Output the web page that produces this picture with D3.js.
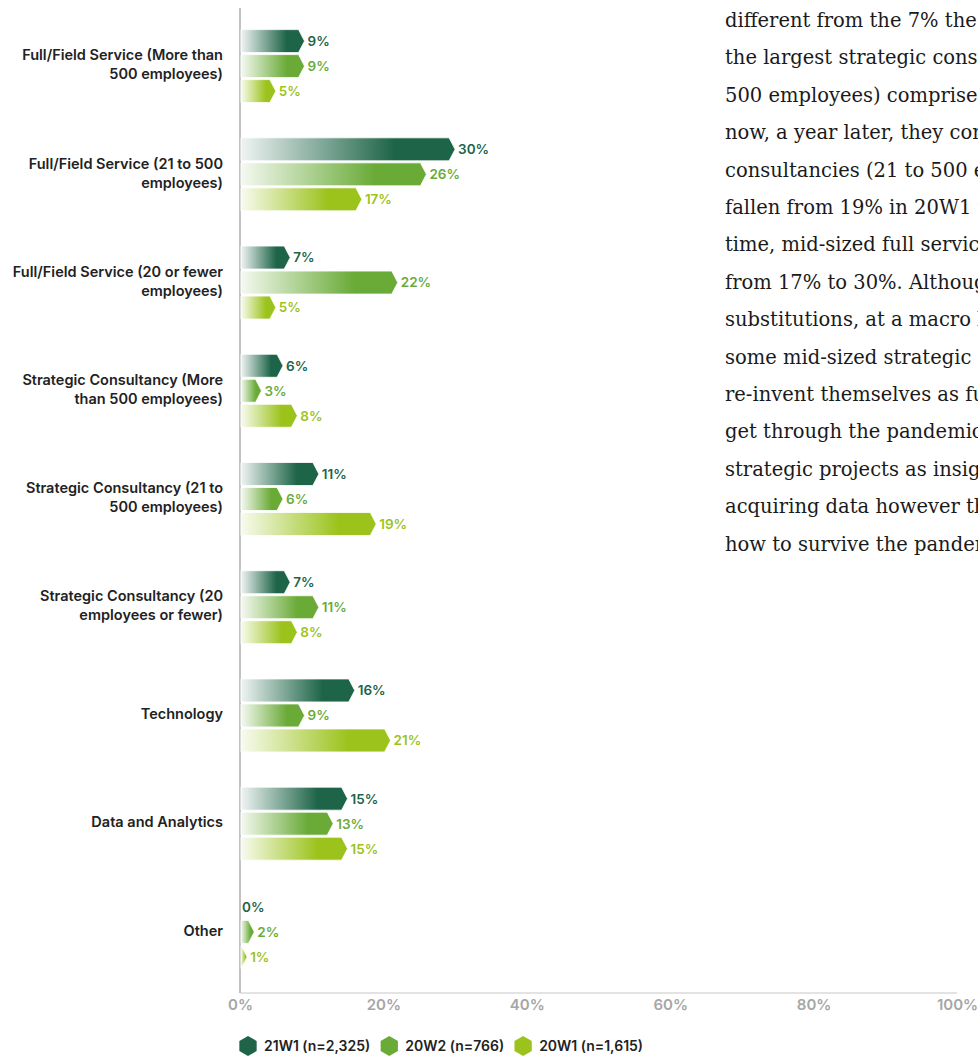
<!DOCTYPE html>
<html>
<head>
<meta charset="utf-8">
<script src="https://cdn.jsdelivr.net/npm/d3@7"></script>
<style>
  html, body { margin: 0; padding: 0; background: #fff; overflow: hidden; }
  svg { display: block; }
</style>
</head>
<body>
<svg id="chart" width="978" height="1056"></svg>
<script>
// ---- data ----
const categories = [
  "Full/Field Service (More than 500 employees)",
  "Full/Field Service (21 to 500 employees)",
  "Full/Field Service (20 or fewer employees)",
  "Strategic Consultancy (More than 500 employees)",
  "Strategic Consultancy (21 to 500 employees)",
  "Strategic Consultancy (20 employees or fewer)",
  "Technology",
  "Data and Analytics",
  "Other"
];
const seriesKeys = ["21W1", "20W2", "20W1"];
const seriesLabels = ["21W1 (n=2,325)", "20W2 (n=766)", "20W1 (n=1,615)"];
const values21W1 = [9, 30, 7, 6, 11, 7, 16, 15, 0];
const values20W2 = [9, 26, 22, 3, 6, 11, 9, 13, 2];
const values20W1 = [5, 17, 5, 8, 19, 8, 21, 15, 1];
const xTicks = [0, 20, 40, 60, 80, 100];
const seriesColors = ["#1d6448", "#6aab38", "#9bc31c"];

const bodyLines = [
  "different from the 7% the",
  "the largest strategic consultancies",
  "500 employees) comprised",
  "now, a year later, they comprise",
  "consultancies (21 to 500 employees)",
  "fallen from 19% in 20W1 to",
  "time, mid-sized full service",
  "from 17% to 30%. Although",
  "substitutions, at a macro level",
  "some mid-sized strategic consultancies",
  "re-invent themselves as full",
  "get through the pandemic",
  "strategic projects as insights",
  "acquiring data however the",
  "how to survive the pandemic"
];

const seriesValues = [values21W1, values20W2, values20W1];
const rows = categories.map((c, i) => ({
  category: c,
  bars: seriesKeys.map((k, s) => ({ key: k, value: seriesValues[s][i], s }))
}));

// ---- layout ----
const svg = d3.select("#chart");
const sansFont = "Inter, 'Open Sans', sans-serif";
const axisY = 993;

const x = d3.scaleLinear().domain([0, 100]).range([240, 957]);
const y = d3.scaleBand().domain(categories).range([12, 986]);
const ySub = d3.scaleBand().domain(seriesKeys).range([-37.5, 37.5])
  .paddingInner(0.08).paddingOuter(0.04);

// gradients: pale on the left, full colour towards the tip
const defs = svg.append("defs");
seriesKeys.forEach((k, s) => {
  const g = defs.append("linearGradient")
    .attr("id", "grad-" + k)
    .attr("x1", 0).attr("x2", 1).attr("y1", 0).attr("y2", 0);
  g.append("stop").attr("offset", 0).attr("stop-color", seriesColors[s]).attr("stop-opacity", 0.07);
  g.append("stop").attr("offset", 0.72).attr("stop-color", seriesColors[s]).attr("stop-opacity", 1);
  g.append("stop").attr("offset", 1).attr("stop-color", seriesColors[s]).attr("stop-opacity", 1);
});

// axes lines
svg.append("line")
  .attr("x1", x(0)).attr("x2", x(0)).attr("y1", 8).attr("y2", axisY)
  .attr("stroke", "#9a9a9a").attr("stroke-width", 1.2);
svg.append("line")
  .attr("x1", x(0)).attr("x2", x(100)).attr("y1", axisY).attr("y2", axisY)
  .attr("stroke", "#c8c8c8").attr("stroke-width", 1.2);

// x tick labels
const xAxis = d3.axisBottom(x).tickValues(xTicks).tickFormat(d => d + "%").tickSize(0).tickPadding(6);
const xg = svg.append("g").attr("transform", `translate(0,${axisY})`).call(xAxis);
xg.select(".domain").remove();
xg.selectAll("text")
  .attr("font-family", sansFont).attr("font-weight", 600).attr("font-size", 15)
  .attr("fill", "#a6a6a6");

// bar shape with arrow tip
const tip = 6;
function barPath(v, h) {
  const x0 = x(0) + 1, xv = x(v);
  if (xv <= x0) return null;
  const bodyEnd = Math.max(x0, xv - tip);
  return `M${x0},${-h / 2}H${bodyEnd}L${xv},0L${bodyEnd},${h / 2}H${x0}Z`;
}

const groups = svg.append("g").selectAll("g.cat")
  .data(rows).join("g")
  .attr("class", "cat")
  .attr("transform", d => `translate(0,${y(d.category) + y.bandwidth() / 2})`);

const barG = groups.selectAll("g.bar")
  .data(d => d.bars).join("g")
  .attr("class", "bar")
  .attr("transform", d => `translate(0,${ySub(d.key) + ySub.bandwidth() / 2})`);

barG.filter(d => barPath(d.value, ySub.bandwidth()) !== null)
  .append("path")
  .attr("d", d => barPath(d.value, ySub.bandwidth()))
  .attr("fill", d => `url(#grad-${d.key})`)
  .attr("stroke", "#ffffff").attr("stroke-width", 0.8);

barG.append("text")
  .attr("x", d => x(d.value) + (d.value > 0 ? 3 : 2))
  .attr("dy", "0.36em")
  .attr("font-family", sansFont).attr("font-weight", 600).attr("font-size", 13.5)
  .attr("fill", d => seriesColors[d.s])
  .text(d => d.value + "%");

// category labels, wrapped into at most two lines
const labelRight = 223, wrapWidth = 218, lineH = 19;
const labelSize = 14.5;
const measurer = svg.append("text")
  .attr("font-family", sansFont).attr("font-weight", 600).attr("font-size", labelSize)
  .attr("visibility", "hidden");
function wrap(str) {
  const words = str.split(" ");
  const lines = [];
  let cur = "";
  words.forEach(w => {
    const trial = cur ? cur + " " + w : w;
    measurer.text(trial);
    if (cur && measurer.node().getComputedTextLength() > wrapWidth) {
      lines.push(cur); cur = w;
    } else cur = trial;
  });
  lines.push(cur);
  return lines;
}
groups.append("text")
  .attr("text-anchor", "end")
  .attr("font-family", sansFont).attr("font-weight", 600).attr("font-size", labelSize)
  .attr("fill", "#222")
  .each(function (d) {
    const lines = wrap(d.category);
    const t = d3.select(this);
    const offset = -((lines.length - 1) * lineH) / 2 - 1.5;
    lines.forEach((ln, i) => {
      t.append("tspan").attr("x", labelRight)
        .attr("y", offset + i * lineH).attr("dy", "0.36em").text(ln);
    });
  });
measurer.remove();

// legend with hexagon markers
const hex = r => d3.range(6).map(i => {
  const a = Math.PI / 3 * i - Math.PI / 2;
  return [r * Math.cos(a), r * Math.sin(a)];
});
const hexLine = d3.line().curve(d3.curveLinearClosed);
const legendY = 1046;
let lx = 239;
seriesKeys.forEach((k, s) => {
  const g = svg.append("g").attr("transform", `translate(${lx},${legendY})`);
  g.append("path").attr("d", hexLine(hex(10))).attr("transform", "translate(9,0)")
    .attr("fill", seriesColors[s]);
  const t = g.append("text").attr("x", 25).attr("dy", "0.36em")
    .attr("font-family", sansFont).attr("font-weight", 600).attr("font-size", 14)
    .attr("fill", "#222").text(seriesLabels[s]);
  lx += 25 + t.node().getComputedTextLength() + 10;
});

// body copy beside the chart
svg.append("g").selectAll("text")
  .data(bodyLines).join("text")
  .attr("x", 725)
  .attr("y", (d, i) => 27 + i * 37.4)
  .attr("font-family", "'DejaVu Serif', serif")
  .attr("font-size", 19.5)
  .attr("fill", "#1a1a1a")
  .text(d => d);
</script>
</body>
</html>
